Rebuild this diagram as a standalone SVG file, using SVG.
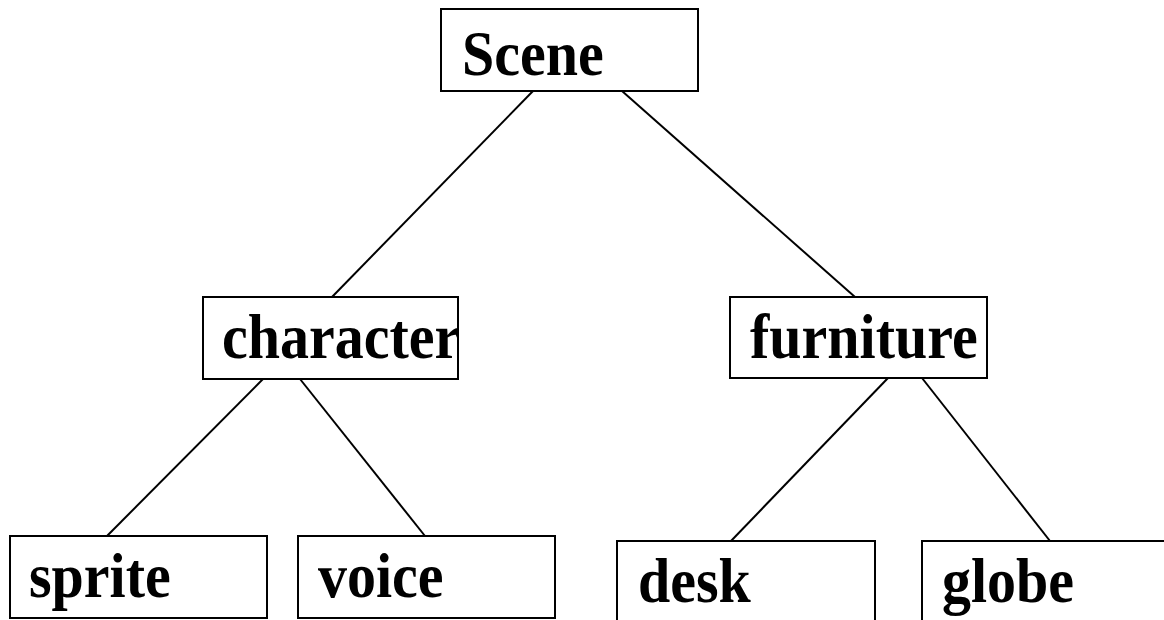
<svg xmlns="http://www.w3.org/2000/svg" width="1164" height="620" viewBox="0 0 1164 620">
<style>
  rect.box { fill: #ffffff; stroke: #000000; stroke-width: 2; }
  .edges line { stroke: #000000; stroke-width: 2; }
  text.lbl { font-family: "Liberation Serif", "Times New Roman", serif; font-weight: bold; font-size: 58px; fill: #000000; }
</style>
<rect width="1164" height="620" fill="#ffffff"/>
<g id="connectors" class="edges">
  <line x1="533" y1="91" x2="332" y2="297"/>
  <line x1="622" y1="91" x2="855" y2="297"/>
  <line x1="263" y1="379" x2="107" y2="536"/>
  <line x1="300" y1="379" x2="425" y2="536"/>
  <line x1="888" y1="378" x2="731" y2="541"/>
  <line x1="922" y1="378" x2="1050" y2="541"/>
</g>
<g id="node-scene">
  <rect class="box" x="441" y="9" width="257" height="82"/>
  <text class="lbl" transform="translate(462,75) scale(1,1.1)">Scene</text>
</g>
<g id="node-character">
  <rect class="box" x="203" y="297" width="255" height="82"/>
  <text class="lbl" transform="translate(222,358) scale(1,1.1)">character</text>
</g>
<g id="node-furniture">
  <rect class="box" x="730" y="297" width="257" height="81"/>
  <text class="lbl" transform="translate(750,358) scale(1,1.1)">furniture</text>
</g>
<g id="node-sprite">
  <rect class="box" x="10" y="536" width="257" height="82"/>
  <text class="lbl" transform="translate(29,597) scale(1,1.1)">sprite</text>
</g>
<g id="node-voice">
  <rect class="box" x="298" y="536" width="257" height="82"/>
  <text class="lbl" transform="translate(318,597) scale(1,1.1)">voice</text>
</g>
<g id="node-desk">
  <rect class="box" x="617" y="541" width="258" height="90"/>
  <text class="lbl" transform="translate(638,602) scale(1,1.1)">desk</text>
</g>
<g id="node-globe">
  <rect class="box" x="922" y="541" width="260" height="90"/>
  <text class="lbl" transform="translate(942,602) scale(1,1.1)">globe</text>
</g>
</svg>
